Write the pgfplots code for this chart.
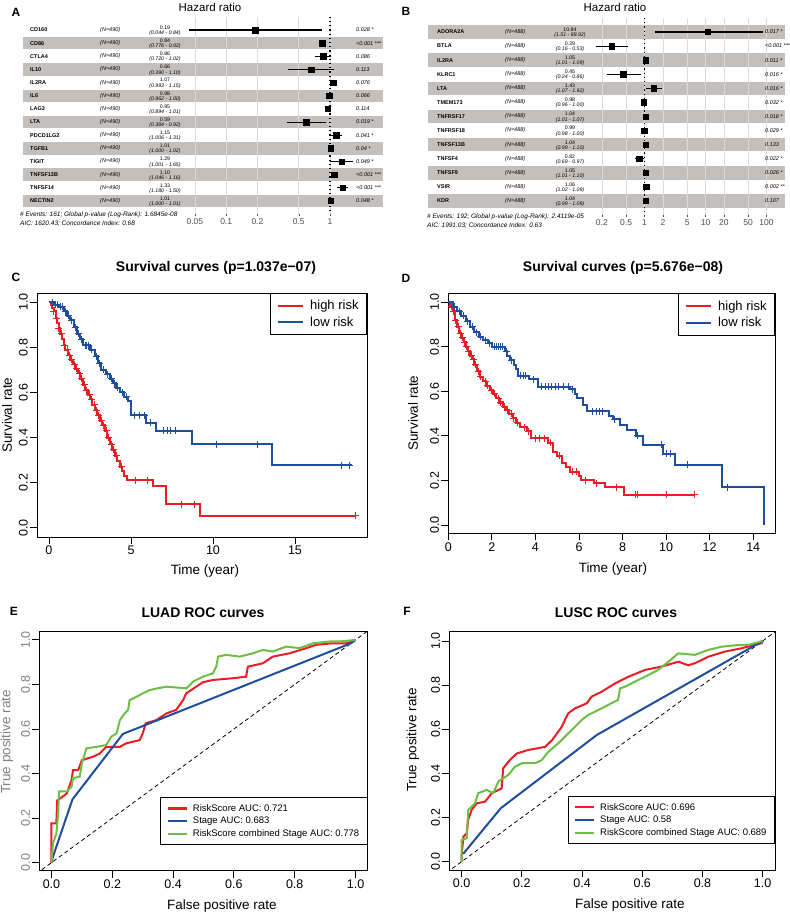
\documentclass[border=0pt]{standalone}
\usepackage{fontspec}
\setmainfont{Liberation Sans}
\usepackage{pgfplots}
\pgfplotsset{compat=1.18}

\definecolor{rred}{HTML}{EC1C24}
\definecolor{rblue}{HTML}{1F4E9E}
\definecolor{rgreen}{HTML}{6CBE45}
\definecolor{band}{HTML}{C3BFBC}
\definecolor{gridc}{HTML}{DADADA}
\definecolor{ticktxt}{HTML}{4D4D4D}

\newcommand\fs[1]{\fontsize{#1}{#1}\selectfont}

\pgfplotsset{
  rplot/.style={
    scale only axis, anchor=north west,
    axis line style={line width=0.9pt},
    tick style={black, line width=0.9pt},
    tick align=outside, major tick length=7pt, tick pos=left,
    /pgf/number format/assume math mode=true,
    tick label style={font=\fs{12.5}},
    yticklabel style={rotate=90, anchor=south, inner sep=2pt},
    xticklabel style={inner sep=2pt},
    legend cell align=left,
  },
  kmleg/.style={
    legend style={at={(1,1)}, anchor=north east, draw=black, line width=0.9pt,
      font=\fs{13}, inner xsep=6pt, inner ysep=5pt, row sep=1.5pt,
      /tikz/every odd column/.append style={column sep=4pt}},
    legend image code/.code={\draw[##1] (0pt,0pt) -- (25pt,0pt);}},
  rocleg/.style={
    legend style={at={(1,0.107)}, anchor=south east, draw=black, line width=0.9pt,
      font=\fs{9.5}, inner xsep=6pt, inner ysep=4.5pt, row sep=0.5pt,
      /tikz/every odd column/.append style={column sep=3pt}},
    legend image code/.code={\draw[##1] (0pt,0pt) -- (19pt,0pt);}},
  hrplot/.style={
    scale only axis, anchor=north west, y dir=reverse, clip=false,
    axis line style={draw=none}, ytick=\empty, tick pos=left, xmajorgrids,
    major grid style={gridc, line width=0.6pt},
    tick align=outside, major tick length=2pt,
    tick style={ticktxt, line width=0.4pt},
    xticklabel style={font=\fs{8.5}, text=ticktxt, inner sep=2.5pt},
    /pgf/number format/assume math mode=true},
  bands/.style={scale only axis, anchor=north west, y dir=reverse, hide axis},
}

\begin{document}
\begin{tikzpicture}
\useasboundingbox (0pt,0pt) rectangle (790pt,-914pt);

% ---------- A : row shading
\begin{axis}[bands, at={(23pt,-16.85pt)}, width=360pt, height=197.25pt,
  xmin=23, xmax=383, ymin=0, ymax=15]
\addplot[fill=band, draw=none] coordinates {(23,1.53) (383,1.53) (383,2.47) (23,2.47)};
\addplot[fill=band, draw=none] coordinates {(23,3.53) (383,3.53) (383,4.47) (23,4.47)};
\addplot[fill=band, draw=none] coordinates {(23,5.53) (383,5.53) (383,6.47) (23,6.47)};
\addplot[fill=band, draw=none] coordinates {(23,7.53) (383,7.53) (383,8.47) (23,8.47)};
\addplot[fill=band, draw=none] coordinates {(23,9.53) (383,9.53) (383,10.47) (23,10.47)};
\addplot[fill=band, draw=none] coordinates {(23,11.53) (383,11.53) (383,12.47) (23,12.47)};
\addplot[fill=band, draw=none] coordinates {(23,13.53) (383,13.53) (383,14.47) (23,14.47)};
\end{axis}

% ---------- B : row shading
\begin{axis}[bands, at={(428pt,-17.9pt)}, width=357pt, height=197.1pt,
  xmin=428, xmax=785, ymin=0, ymax=14]
\addplot[fill=band, draw=none] coordinates {(428,0.52) (785,0.52) (785,1.48) (428,1.48)};
\addplot[fill=band, draw=none] coordinates {(428,2.52) (785,2.52) (785,3.48) (428,3.48)};
\addplot[fill=band, draw=none] coordinates {(428,4.52) (785,4.52) (785,5.48) (428,5.48)};
\addplot[fill=band, draw=none] coordinates {(428,6.52) (785,6.52) (785,7.48) (428,7.48)};
\addplot[fill=band, draw=none] coordinates {(428,8.52) (785,8.52) (785,9.48) (428,9.48)};
\addplot[fill=band, draw=none] coordinates {(428,10.52) (785,10.52) (785,11.48) (428,11.48)};
\addplot[fill=band, draw=none] coordinates {(428,12.52) (785,12.52) (785,13.48) (428,13.48)};
\end{axis}

% ---------- A : hazard ratios
\begin{axis}[hrplot, xmode=log, at={(183pt,-16.85pt)}, width=172pt, height=197.25pt,
  xmin=0.0384, xmax=1.74, ymin=0, ymax=15,
  xtick={0.05,0.1,0.2,0.5,1}, xticklabels={0.05,0.1,0.2,0.5,1}]
\addplot[black, line width=1.2pt, dash pattern=on 1.2pt off 3pt] coordinates {(1,0) (1,15)};
\addplot[black, line width=1.1pt] coordinates {(0.044,1) (0.84,1)};
\addplot[black, line width=1.1pt] coordinates {(0.776,2) (0.92,2)};
\addplot[black, line width=1.1pt] coordinates {(0.720,3) (1.02,3)};
\addplot[black, line width=1.1pt] coordinates {(0.390,4) (1.10,4)};
\addplot[black, line width=1.1pt] coordinates {(0.993,5) (1.15,5)};
\addplot[black, line width=1.1pt] coordinates {(0.962,6) (1.00,6)};
\addplot[black, line width=1.1pt] coordinates {(0.894,7) (1.01,7)};
\addplot[black, line width=1.1pt] coordinates {(0.384,8) (0.92,8)};
\addplot[black, line width=1.1pt] coordinates {(1.006,9) (1.31,9)};
\addplot[black, line width=1.1pt] coordinates {(1.000,10) (1.02,10)};
\addplot[black, line width=1.1pt] coordinates {(1.001,11) (1.65,11)};
\addplot[black, line width=1.1pt] coordinates {(1.046,12) (1.16,12)};
\addplot[black, line width=1.1pt] coordinates {(1.180,13) (1.50,13)};
\addplot[black, line width=1.1pt] coordinates {(1.000,14) (1.01,14)};
\addplot[only marks, mark=square*, mark size=2.7pt, black] coordinates {
  (0.19,1) (0.84,2) (0.86,3) (0.66,4) (1.07,5) (0.98,6) (0.95,7)
  (0.59,8) (1.15,9) (1.01,10) (1.29,11) (1.10,12) (1.33,13) (1.01,14)};
\end{axis}

% ---------- B : hazard ratios
\begin{axis}[hrplot, xmode=log, at={(590pt,-17.9pt)}, width=190pt, height=197.1pt,
  xmin=0.1278, xmax=166.4, ymin=0, ymax=14,
  xtick={0.2,0.5,1,2,5,10,20,50,100}, xticklabels={0.2,0.5,1,2,5,10,20,50,100}]
\addplot[black, line width=1.2pt, dash pattern=on 1.2pt off 3pt] coordinates {(1,0) (1,14)};
\addplot[black, line width=1.1pt] coordinates {(1.51,1) (88.92,1)};
\addplot[black, line width=1.1pt] coordinates {(0.16,2) (0.53,2)};
\addplot[black, line width=1.1pt] coordinates {(1.01,3) (1.09,3)};
\addplot[black, line width=1.1pt] coordinates {(0.24,4) (0.86,4)};
\addplot[black, line width=1.1pt] coordinates {(1.07,5) (1.92,5)};
\addplot[black, line width=1.1pt] coordinates {(0.96,6) (1.00,6)};
\addplot[black, line width=1.1pt] coordinates {(1.01,7) (1.07,7)};
\addplot[black, line width=1.1pt] coordinates {(0.98,8) (1.00,8)};
\addplot[black, line width=1.1pt] coordinates {(0.99,9) (1.10,9)};
\addplot[black, line width=1.1pt] coordinates {(0.69,10) (0.97,10)};
\addplot[black, line width=1.1pt] coordinates {(1.01,11) (1.10,11)};
\addplot[black, line width=1.1pt] coordinates {(1.02,12) (1.09,12)};
\addplot[black, line width=1.1pt] coordinates {(0.99,13) (1.09,13)};
\addplot[only marks, mark=square*, mark size=2.7pt, black] coordinates {
  (10.94,1) (0.29,2) (1.05,3) (0.45,4) (1.43,5) (0.98,6) (1.04,7)
  (0.99,8) (1.04,9) (0.82,10) (1.05,11) (1.06,12) (1.04,13)};
\end{axis}

% ---------- C : survival LUAD
\begin{axis}[rplot, kmleg, at={(37pt,-293pt)}, width=330pt, height=244pt,
  xmin=-0.73, xmax=19.39, ymin=-0.041, ymax=1.041,
  xtick={0,5,10,15}, ytick={0,0.2,0.4,0.6,0.8,1},
  yticklabels={0.0,0.2,0.4,0.6,0.8,1.0}]
\addlegendimage{rred, line width=2.2pt}\addlegendentry{high risk}
\addlegendimage{rblue, line width=2.2pt}\addlegendentry{low risk}
\addplot[rred, line width=2pt, const plot] coordinates {
  (0,1.0) (0.1,0.99) (0.2,0.975) (0.3,0.96) (0.4,0.93) (0.5,0.91) (0.6,0.885)
  (0.7,0.86) (0.8,0.835) (0.9,0.81) (1.0,0.79) (1.15,0.765) (1.3,0.745)
  (1.45,0.725) (1.6,0.705) (1.75,0.685) (1.9,0.66) (2.05,0.635) (2.2,0.61)
  (2.35,0.59) (2.5,0.57) (2.65,0.545) (2.8,0.52) (2.95,0.5) (3.1,0.475)
  (3.25,0.455) (3.4,0.43) (3.55,0.40) (3.7,0.37) (3.85,0.345) (4.0,0.32)
  (4.15,0.295) (4.3,0.27) (4.45,0.25) (4.6,0.23) (4.75,0.21) (6.35,0.185)
  (7.15,0.105) (9.2,0.053) (18.7,0.053)};
\addplot[rred, only marks, mark=+, mark size=3.5pt, mark options={line width=1pt}] coordinates {
  (0.3,0.96) (0.45,0.93) (0.6,0.885) (0.75,0.86) (0.95,0.81) (1.1,0.79)
  (1.25,0.765) (1.4,0.745) (1.55,0.725) (1.7,0.705) (1.85,0.685) (2.0,0.66)
  (2.15,0.635) (2.3,0.61) (2.45,0.59) (2.6,0.57) (2.75,0.545) (2.9,0.52)
  (3.05,0.5) (3.2,0.475) (3.35,0.455) (3.5,0.43) (3.65,0.40) (3.8,0.37)
  (3.95,0.345) (4.1,0.32) (4.4,0.27) (5.25,0.21) (6.0,0.21) (8.1,0.105)
  (8.9,0.105) (18.66,0.053)};
\addplot[rblue, line width=2pt, const plot] coordinates {
  (0,1.0) (0.3,0.99) (0.6,0.98) (0.9,0.96) (1.1,0.94) (1.3,0.92) (1.5,0.89)
  (1.7,0.86) (1.9,0.835) (2.1,0.81) (2.5,0.79) (2.8,0.76) (3.0,0.73)
  (3.2,0.70) (3.45,0.68) (3.7,0.66) (3.9,0.64) (4.1,0.62) (4.35,0.60)
  (4.6,0.58) (4.8,0.56) (5.0,0.50) (5.9,0.465) (6.5,0.43) (8.7,0.37)
  (13.58,0.278) (18.46,0.278)};
\addplot[rblue, only marks, mark=+, mark size=3.5pt, mark options={line width=1pt}] coordinates {
  (0.2,1.0) (0.4,0.99) (0.5,0.99) (0.7,0.98) (0.8,0.98) (1.0,0.96) (1.2,0.94)
  (1.4,0.92) (1.6,0.89) (1.8,0.86) (2.0,0.835) (2.2,0.81) (2.3,0.81)
  (2.4,0.81) (2.6,0.79) (2.9,0.76) (3.1,0.73) (3.3,0.70) (3.55,0.68)
  (3.8,0.66) (4.0,0.64) (4.2,0.62) (4.5,0.60) (4.7,0.58) (5.2,0.50)
  (5.5,0.50) (5.8,0.50) (6.2,0.465) (7.0,0.43) (7.2,0.43) (7.4,0.43)
  (7.7,0.43) (10.2,0.37) (12.7,0.37) (17.85,0.278) (18.35,0.278)};
\end{axis}

% ---------- D : survival LUSC
\begin{axis}[rplot, kmleg, at={(448.3pt,-293.3pt)}, width=326.7pt, height=240pt,
  xmin=0, xmax=15, ymin=-0.037, ymax=1.040,
  xtick={0,2,4,6,8,10,12,14}, ytick={0,0.2,0.4,0.6,0.8,1},
  yticklabels={0.0,0.2,0.4,0.6,0.8,1.0}]
\addlegendimage{rred, line width=2.2pt}\addlegendentry{high risk}
\addlegendimage{rblue, line width=2.2pt}\addlegendentry{low risk}
\addplot[rred, line width=2pt, const plot] coordinates {
  (0,1.0) (0.1,0.98) (0.2,0.96) (0.3,0.92) (0.4,0.89) (0.5,0.86) (0.6,0.84)
  (0.7,0.82) (0.8,0.80) (0.9,0.78) (1.0,0.76) (1.1,0.745) (1.2,0.72)
  (1.3,0.69) (1.45,0.665) (1.6,0.645) (1.75,0.625) (1.9,0.605) (2.05,0.59)
  (2.2,0.57) (2.35,0.55) (2.5,0.53) (2.65,0.515) (2.8,0.50) (2.95,0.48)
  (3.1,0.46) (3.3,0.44) (3.6,0.42) (3.8,0.39) (4.6,0.37) (4.8,0.33)
  (5.0,0.31) (5.2,0.28) (5.4,0.26) (5.6,0.24) (6.0,0.22) (6.1,0.20)
  (6.7,0.187) (7.2,0.17) (8.05,0.135) (11.3,0.135)};
\addplot[rred, only marks, mark=+, mark size=3.5pt, mark options={line width=1pt}] coordinates {
  (0.15,0.98) (0.25,0.96) (0.35,0.92) (0.45,0.89) (0.55,0.86) (0.65,0.84)
  (0.75,0.82) (0.85,0.80) (0.95,0.78) (1.05,0.76) (1.15,0.745) (1.25,0.72)
  (1.4,0.69) (1.5,0.665) (1.7,0.645) (1.8,0.625) (2.0,0.605) (2.1,0.59)
  (2.3,0.57) (2.4,0.55) (2.6,0.53) (2.7,0.515) (2.9,0.50) (3.0,0.48)
  (3.2,0.46) (3.5,0.44) (3.7,0.42) (4.0,0.39) (4.2,0.39) (4.4,0.39)
  (4.7,0.37) (5.1,0.31) (5.7,0.24) (5.9,0.24) (6.3,0.20) (6.8,0.187)
  (7.7,0.17) (8.6,0.135) (8.7,0.135) (10.0,0.135) (11.3,0.135)};
\addplot[rblue, line width=2pt, const plot] coordinates {
  (0,1.0) (0.2,0.98) (0.4,0.96) (0.6,0.94) (0.8,0.915) (1.0,0.89) (1.2,0.865)
  (1.4,0.845) (1.6,0.83) (1.8,0.815) (2.0,0.80) (2.6,0.78) (2.7,0.76)
  (2.85,0.74) (3.0,0.72) (3.1,0.70) (3.2,0.67) (3.7,0.655) (4.1,0.62)
  (5.6,0.61) (5.8,0.59) (5.9,0.57) (6.2,0.54) (6.35,0.51) (7.4,0.49)
  (7.55,0.475) (7.9,0.45) (8.2,0.425) (8.6,0.40) (8.95,0.36) (9.85,0.32)
  (10.4,0.27) (12.57,0.17) (14.48,0.0)};
\addplot[rblue, only marks, mark=+, mark size=3.5pt, mark options={line width=1pt}] coordinates {
  (0.3,0.98) (0.5,0.96) (0.7,0.94) (0.9,0.915) (1.1,0.89) (1.3,0.865)
  (1.5,0.845) (1.7,0.83) (1.9,0.815) (2.1,0.80) (2.2,0.80) (2.3,0.80)
  (2.4,0.80) (2.5,0.80) (2.65,0.78) (2.9,0.74) (3.3,0.67) (3.45,0.67)
  (3.55,0.67) (3.9,0.655) (4.3,0.62) (4.45,0.62) (4.6,0.62) (4.75,0.62)
  (4.9,0.62) (5.05,0.62) (5.3,0.62) (5.5,0.62) (5.7,0.61) (6.6,0.51)
  (6.8,0.51) (6.95,0.51) (7.1,0.51) (7.65,0.475) (8.7,0.40) (9.8,0.36)
  (10.0,0.32) (10.2,0.32) (11.0,0.27) (12.8,0.17)};
\end{axis}

% ---------- E : ROC LUAD
\begin{axis}[rplot, rocleg, at={(39.3pt,-631pt)}, width=328.4pt, height=239.7pt,
  xmin=-0.04, xmax=1.04, ymin=-0.036, ymax=1.04,
  xtick={0,0.2,0.4,0.6,0.8,1}, xticklabels={0.0,0.2,0.4,0.6,0.8,1.0},
  ytick={0,0.2,0.4,0.6,0.8,1}, yticklabels={0.0,0.2,0.4,0.6,0.8,1.0},
  yticklabel style={text=gray}]
\addlegendimage{rred, line width=2.2pt}\addlegendentry{RiskScore AUC: 0.721}
\addlegendimage{rblue, line width=2.2pt}\addlegendentry{Stage AUC: 0.683}
\addlegendimage{rgreen, line width=2.2pt}\addlegendentry{RiskScore combined Stage AUC: 0.778}
\addplot[black, line width=0.8pt, dash pattern=on 4pt off 3pt] coordinates {(-0.05,-0.05) (1.05,1.05)};
\addplot[rred, line width=2pt] coordinates {
  (0,0) (0,0.087) (0,0.177) (0.016,0.177) (0.019,0.28) (0.03,0.29) (0.05,0.31)
  (0.066,0.37) (0.071,0.416) (0.088,0.416) (0.1,0.46) (0.137,0.476)
  (0.159,0.49) (0.18,0.52) (0.225,0.52) (0.246,0.536) (0.29,0.55) (0.30,0.58)
  (0.31,0.626) (0.345,0.64) (0.378,0.67) (0.41,0.686) (0.433,0.73)
  (0.443,0.76) (0.476,0.79) (0.498,0.81) (0.53,0.82) (0.597,0.828)
  (0.64,0.835) (0.646,0.88) (0.695,0.895) (0.728,0.925) (0.783,0.94)
  (0.838,0.963) (0.87,0.978) (0.925,0.985) (0.97,0.985) (1,1)};
\addplot[rblue, line width=2pt] coordinates {
  (0,0) (0.005,0.027) (0.069,0.284) (0.235,0.578) (0.985,0.985) (1,1)};
\addplot[rgreen, line width=2pt] coordinates {
  (0,0) (0.005,0.087) (0.016,0.13) (0.022,0.22) (0.025,0.32) (0.05,0.32)
  (0.066,0.34) (0.071,0.38) (0.093,0.386) (0.1,0.446) (0.115,0.513)
  (0.148,0.52) (0.18,0.528) (0.197,0.566) (0.214,0.58) (0.225,0.64)
  (0.241,0.67) (0.252,0.686) (0.257,0.73) (0.28,0.745) (0.30,0.76)
  (0.323,0.775) (0.35,0.783) (0.378,0.79) (0.444,0.783) (0.466,0.813)
  (0.498,0.835) (0.531,0.85) (0.542,0.88) (0.548,0.925) (0.575,0.933)
  (0.619,0.925) (0.663,0.94) (0.695,0.955) (0.728,0.948) (0.772,0.97)
  (0.816,0.963) (0.86,0.985) (0.915,0.993) (0.947,0.993) (1,1)};
\end{axis}

% ---------- F : ROC LUSC
\begin{axis}[rplot, rocleg, at={(449.3pt,-631.7pt)}, width=325.7pt, height=238.3pt,
  xmin=-0.041, xmax=1.041, ymin=-0.038, ymax=1.042,
  xtick={0,0.2,0.4,0.6,0.8,1}, xticklabels={0.0,0.2,0.4,0.6,0.8,1.0},
  ytick={0,0.2,0.4,0.6,0.8,1}, yticklabels={0.0,0.2,0.4,0.6,0.8,1.0},
  legend style={at={(1,0.109)}}]
\addlegendimage{rred, line width=2.2pt}\addlegendentry{RiskScore AUC: 0.696}
\addlegendimage{rblue, line width=2.2pt}\addlegendentry{Stage AUC: 0.58}
\addlegendimage{rgreen, line width=2.2pt}\addlegendentry{RiskScore combined Stage AUC: 0.689}
\addplot[black, line width=0.8pt, dash pattern=on 4pt off 3pt] coordinates {(-0.05,-0.05) (1.05,1.05)};
\addplot[rred, line width=2pt] coordinates {
  (0,0) (0,0.03) (0.006,0.113) (0.017,0.128) (0.022,0.19) (0.033,0.234)
  (0.05,0.264) (0.078,0.272) (0.1,0.31) (0.133,0.332) (0.138,0.423)
  (0.16,0.46) (0.183,0.49) (0.221,0.506) (0.277,0.52) (0.3,0.55) (0.332,0.61)
  (0.354,0.672) (0.377,0.695) (0.415,0.717) (0.432,0.748) (0.465,0.77)
  (0.51,0.808) (0.554,0.838) (0.61,0.869) (0.664,0.884) (0.72,0.906)
  (0.753,0.89) (0.775,0.899) (0.82,0.929) (0.875,0.952) (0.93,0.967)
  (0.997,0.99) (1,1)};
\addplot[rblue, line width=2pt] coordinates {
  (0.005,0.035) (0.13,0.242) (0.449,0.574) (1,1)};
\addplot[rgreen, line width=2pt] coordinates {
  (0,0) (0,0.098) (0.017,0.106) (0.022,0.234) (0.044,0.264) (0.055,0.31)
  (0.083,0.325) (0.105,0.31) (0.122,0.363) (0.155,0.393) (0.177,0.43)
  (0.2,0.446) (0.244,0.446) (0.266,0.46) (0.288,0.498) (0.321,0.536)
  (0.343,0.566) (0.377,0.612) (0.399,0.642) (0.421,0.665) (0.454,0.687)
  (0.498,0.718) (0.52,0.733) (0.526,0.785) (0.543,0.793) (0.576,0.816)
  (0.609,0.838) (0.653,0.869) (0.687,0.906) (0.72,0.944) (0.775,0.937)
  (0.82,0.96) (0.864,0.974) (0.919,0.982) (0.952,0.982) (1,1)};
\end{axis}

% ---------- texts
\begin{scope}[x=1pt, y=-1pt]
\node[font=\fs{12}\bfseries] at (16,12) {A};
\node[font=\fs{12}\bfseries] at (406,11) {B};
\node[font=\fs{12}\bfseries] at (16,277) {C};
\node[font=\fs{12}\bfseries] at (406,278) {D};
\node[font=\fs{12}\bfseries] at (14,611) {E};
\node[font=\fs{12}\bfseries] at (407,611) {F};

\node[font=\fs{11.5}] at (210,7) {Hazard ratio};
\node[font=\fs{11.5}] at (615,7) {Hazard ratio};

\foreach \i/\g/\h/\c/\p in {
  1/CD160/0.19/0.044 - 0.84/0.028 *,
  2/CD86/0.84/0.776 - 0.92/<0.001 ***,
  3/CTLA4/0.86/0.720 - 1.02/0.086,
  4/IL10/0.66/0.390 - 1.10/0.113,
  5/IL2RA/1.07/0.993 - 1.15/0.076,
  6/IL6/0.98/0.962 - 1.00/0.066,
  7/LAG3/0.95/0.894 - 1.01/0.114,
  8/LTA/0.59/0.384 - 0.92/0.019 *,
  9/PDCD1LG2/1.15/1.006 - 1.31/0.041 *,
  10/TGFB1/1.01/1.000 - 1.02/0.04 *,
  11/TIGIT/1.29/1.001 - 1.65/0.049 *,
  12/TNFSF13B/1.10/1.046 - 1.16/<0.001 ***,
  13/TNFSF14/1.33/1.180 - 1.50/<0.001 ***,
  14/NECTIN2/1.01/1.000 - 1.01/0.048 *}{
  \pgfmathsetmacro\yy{30+(\i-1)*13.15}
  \node[anchor=west, inner sep=0pt, font=\fs{5.5}\bfseries] at (30,\yy) {\g};
  \node[anchor=west, inner sep=0pt, font=\fs{5.5}\itshape] at (100,\yy) {(N=490)};
  \node[inner sep=0pt, font=\fs{5.2}] at (165,\yy-2.4) {\h};
  \node[inner sep=0pt, font=\fs{5.2}\itshape] at (165,\yy+3.2) {(\c)};
  \node[anchor=west, inner sep=0pt, font=\fs{5.5}\itshape] at (356,\yy) {\p};
}
\foreach \i/\g/\h/\c/\p in {
  1/ADORA2A/10.94/1.51 - 88.92/0.017 *,
  2/BTLA/0.29/0.16 - 0.53/<0.001 ***,
  3/IL2RA/1.05/1.01 - 1.09/0.011 *,
  4/KLRC1/0.45/0.24 - 0.86/0.016 *,
  5/LTA/1.43/1.07 - 1.92/0.016 *,
  6/TMEM173/0.98/0.96 - 1.00/0.032 *,
  7/TNFRSF17/1.04/1.01 - 1.07/0.018 *,
  8/TNFRSF18/0.99/0.98 - 1.00/0.029 *,
  9/TNFSF13B/1.04/0.99 - 1.10/0.133,
  10/TNFSF4/0.82/0.69 - 0.97/0.022 *,
  11/TNFSF9/1.05/1.01 - 1.10/0.026 *,
  12/VSIR/1.06/1.02 - 1.09/0.002 **,
  13/KDR/1.04/0.99 - 1.09/0.107}{
  \pgfmathsetmacro\yy{32+(\i-1)*14.08}
  \node[anchor=west, inner sep=0pt, font=\fs{5.5}\bfseries] at (437,\yy) {\g};
  \node[anchor=west, inner sep=0pt, font=\fs{5.5}\itshape] at (505,\yy) {(N=488)};
  \node[inner sep=0pt, font=\fs{5.2}] at (570,\yy-2.4) {\h};
  \node[inner sep=0pt, font=\fs{5.2}\itshape] at (570,\yy+3.2) {(\c)};
  \node[anchor=west, inner sep=0pt, font=\fs{5.5}\itshape] at (765,\yy) {\p};
}
\node[anchor=west, inner sep=0pt, font=\fs{6.5}\itshape] at (20,215) {\# Events: 161; Global p-value (Log-Rank): 1.6845e-08};
\node[anchor=west, inner sep=0pt, font=\fs{6.5}\itshape] at (20,224) {AIC: 1620.43; Concordance Index: 0.68};
\node[anchor=west, inner sep=0pt, font=\fs{6.5}\itshape] at (427,217) {\# Events: 192; Global p-value (Log-Rank): 2.4119e-05};
\node[anchor=west, inner sep=0pt, font=\fs{6.5}\itshape] at (427,226) {AIC: 1991.03; Concordance Index: 0.63};

\node[font=\fs{14}\bfseries] at (216,268) {Survival curves (p=1.037e−07)};
\node[font=\fs{14}\bfseries] at (623,268) {Survival curves (p=5.676e−08)};
\node[font=\fs{14}\bfseries] at (203,613) {LUAD ROC curves};
\node[font=\fs{14}\bfseries] at (616,613) {LUSC ROC curves};

\node[font=\fs{13.5}] at (205,571) {Time (year)};
\node[font=\fs{13.5}] at (613,569) {Time (year)};
\node[font=\fs{13.5}] at (222,906) {False positive rate};
\node[font=\fs{13.5}] at (630,905) {False positive rate};
\node[font=\fs{13.5}, rotate=90] at (7,415) {Survival rate};
\node[font=\fs{13.5}, rotate=90] at (413,413) {Survival rate};
\node[font=\fs{13.5}, rotate=90, text=gray] at (7,742) {True positive rate};
\node[font=\fs{13.5}, rotate=90] at (413,740) {True positive rate};
\end{scope}
\end{tikzpicture}
\end{document}
